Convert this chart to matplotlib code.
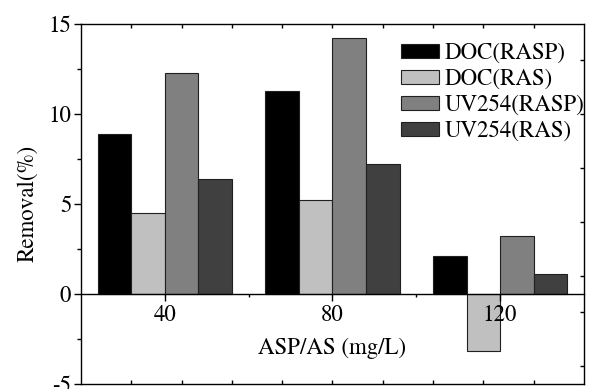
import numpy as np
import matplotlib
matplotlib.use("Agg")
import matplotlib.pyplot as plt

# ── Data ────────────────────────────────────────────────────────────────
doses = [40, 80, 120]
series_names = ["DOC(RASP)", "DOC(RAS)", "UV254(RASP)", "UV254(RAS)"]
doc_rasp = [8.9, 11.3, 2.1]
doc_ras = [4.5, 5.2, -3.2]
uv_rasp = [12.3, 14.2, 3.2]
uv_ras = [6.4, 7.2, 1.1]

# ── Style ───────────────────────────────────────────────────────────────
plt.rcParams.update({
    "font.family": ["TeX Gyre Termes", "Liberation Serif", "STIXGeneral",
                    "DejaVu Serif"],
    "font.size": 16.5,
    "axes.linewidth": 1.0,
    "axes.unicode_minus": False,
})
COLORS = ["#000000", "#c0c0c0", "#808080", "#404040"]
EDGE = "#202020"

fig = plt.figure(figsize=(5.9, 3.89), dpi=100)
ax = fig.add_axes([0.1373, 0.0139, 0.8525, 0.9244])
ax.set_axisbelow(False)

width = 8
offsets = [-12, -4, 4, 12]
x = np.array(doses, dtype=float)
for vals, off, col, name in zip([doc_rasp, doc_ras, uv_rasp, uv_ras],
                                offsets, COLORS, series_names):
    ax.bar(x + off, vals, width=width, color=col, edgecolor=EDGE,
           linewidth=0.8, label=name, zorder=2)

ax.set_xlim(20, 140)
ax.set_ylim(-5, 15)

# x axis drawn through zero
ax.spines["bottom"].set_position(("data", 0))
ax.spines["top"].set_visible(False)
ax.spines["right"].set_visible(False)
ax.set_xticks(doses)
ax.set_xticks([60, 100], minor=True)
ax.tick_params(axis="x", which="major", direction="out", length=5, width=1, pad=3)
ax.tick_params(axis="x", which="minor", direction="out", length=2.5, width=1)

ax.set_yticks([-5, 0, 5, 10, 15])
ax.set_yticks([-2.5, 2.5, 7.5, 12.5], minor=True)
ax.tick_params(axis="y", which="major", direction="out", length=5, width=1, pad=2)
ax.tick_params(axis="y", which="minor", direction="out", length=3, width=1)

# frame lines with their own inward ticks
frame_ticks = np.arange(32, 130, 12)
for loc in ["top", 0.0]:
    sec = ax.secondary_xaxis(loc)
    sec.set_xticks(frame_ticks)
    sec.tick_params(direction="in", length=3, width=1)
    sec.set_xticklabels([])
sec_r = ax.secondary_yaxis("right")
sec_r.set_yticks([13, 10, 7, 4, 1, -1, -4])
sec_r.tick_params(direction="in", length=3, width=1)
sec_r.set_yticklabels([])

ax.set_xlabel("ASP/AS (mg/L)")
ax.xaxis.set_label_coords(0.5, 0.128)
ax.set_ylabel("Removal(%)")
ax.yaxis.set_label_coords(-0.085, 0.5)

ax.legend(loc="upper left", bbox_to_anchor=(0.637, 0.948), frameon=False,
          borderpad=0, borderaxespad=0, handlelength=1.65, handleheight=0.6,
          handletextpad=0.25, labelspacing=0.2, fontsize=16.5)

fig.savefig("out.png", dpi=100)
